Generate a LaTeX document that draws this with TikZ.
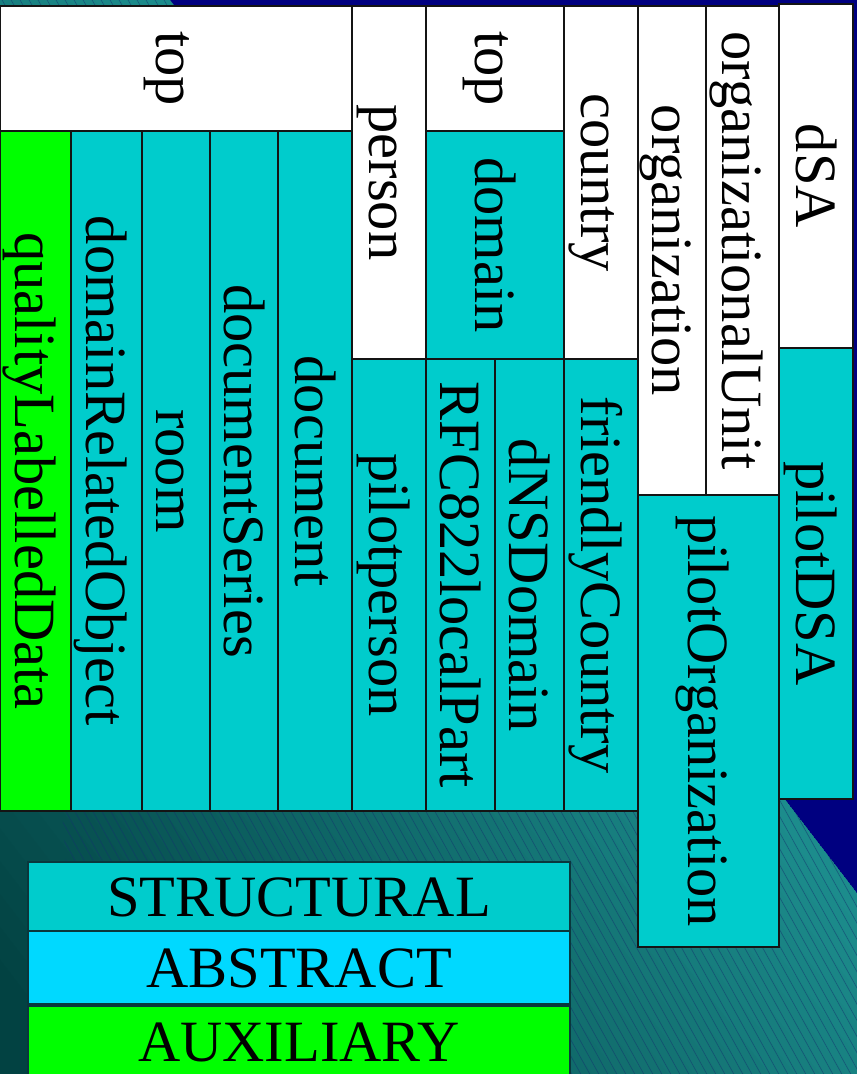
\documentclass[tikz,border=0pt]{standalone}
\usepackage{fontspec}
\setmainfont{Liberation Serif}
\definecolor{navyback}{RGB}{0,0,128}
\definecolor{bglight}{RGB}{28,140,140}
\definecolor{bgdark}{RGB}{2,66,66}
\definecolor{hatchc}{RGB}{20,50,110}
\definecolor{structural}{RGB}{0,204,204}
\definecolor{abstractc}{RGB}{0,217,255}
\definecolor{auxiliary}{RGB}{0,255,0}
\definecolor{cellline}{RGB}{20,20,20}
\definecolor{legendline}{RGB}{10,55,60}
\begin{document}
\begin{tikzpicture}[x=1pt,y=-1pt,
  cell/.style={draw=cellline, line width=1.2pt, inner sep=0pt,
    text height=52pt, text depth=12.6pt,
    font=\fontsize{58.5}{60}\selectfont},
  vcell/.style={cell, rotate=-90},
  legend/.style={cell, draw=legendline, minimum width=542pt},
  hatch/.style={draw=hatchc, line width=0.7pt, opacity=0.5}]
\useasboundingbox (0,0) rectangle (857,1074);
\clip (0,0) rectangle (857,1074);

% backdrop: navy corner and shaded, hatched teal field
\fill[navyback] (0,0) rectangle (857,1074);
\begin{scope}
  \clip (-1,-1) -- (170,-1) -- (857,893) -- (858,1075) -- (-1,1075) -- cycle;
  \foreach \k in {0,...,41} {
    \pgfmathsetmacro\da{20*\k}
    \pgfmathsetmacro\db{20*\k+21}
    \pgfmathsetmacro\pct{min(100,\k*100/36)}
    \fill[bgdark!\pct!bglight]
      ({170-0.7926*\da-0.6098*1500},{0.6098*\da-0.7926*1500}) --
      ({170-0.7926*\da+0.6098*1500},{0.6098*\da+0.7926*1500}) --
      ({170-0.7926*\db+0.6098*1500},{0.6098*\db+0.7926*1500}) --
      ({170-0.7926*\db-0.6098*1500},{0.6098*\db-0.7926*1500}) -- cycle;
  }
  \clip (0,-1) -- (62,811) -- (82,1075) -- (858,1075) -- (858,-1) -- cycle;
  \foreach \x in {-620,-611,...,860}
    \draw[hatch] (\x,-2) -- ++(600,1080);
\end{scope}

% columns under the first top
\node[vcell, fill=white, minimum width=125pt, minimum height=352pt] (top1) at (176,68.5) {top};
\node[vcell, fill=auxiliary, minimum width=680pt, minimum height=71pt] (quality) at (35.5,471) {qualityLabelledData};
\node[vcell, fill=structural, minimum width=680pt, minimum height=71pt] (domrel) at (106.5,471) {domainRelatedObject};
\node[vcell, fill=structural, minimum width=680pt, minimum height=68pt] (room) at (176,471) {room};
\node[vcell, fill=structural, minimum width=680pt, minimum height=68pt] (docser) at (244,471) {documentSeries};
\node[vcell, fill=structural, minimum width=680pt, minimum height=74pt] (doc) at (315,471) {document};

% person
\node[vcell, fill=white, minimum width=353pt, minimum height=74pt] (person) at (389,182.5) {person};
\node[vcell, fill=structural, minimum width=452pt, minimum height=74pt] (pperson) at (389,585) {pilotperson};

% domain branch
\node[vcell, fill=white, minimum width=125pt, minimum height=138pt] (top2) at (495,68.5) {top};
\node[vcell, fill=structural, minimum width=228pt, minimum height=138pt] (domain) at (495,245) {domain};
\node[vcell, fill=structural, minimum width=452pt, minimum height=69pt] (rfc) at (460.5,585) {RFC822localPart};
\node[vcell, fill=structural, minimum width=452pt, minimum height=69pt] (dns) at (529.5,585) {dNSDomain};

% country
\node[vcell, fill=white, minimum width=353pt, minimum height=74pt] (country) at (601,182.5) {country};
\node[vcell, fill=structural, minimum width=452pt, minimum height=74pt] (fcountry) at (601,585) {friendlyCountry};

% organization
\node[vcell, fill=white, minimum width=489pt, minimum height=68pt] (org) at (672,250.5) {organization};
\node[vcell, fill=white, minimum width=489pt, minimum height=73pt] (orgunit) at (742.5,250.5) {organizationalUnit};
\node[vcell, fill=structural, minimum width=452pt, minimum height=141pt] (porg) at (708.5,721) {pilotOrganization};

% dSA
\node[vcell, fill=white, minimum width=344pt, minimum height=74pt] (dsa) at (816,176) {dSA};
\node[vcell, fill=structural, minimum width=451pt, minimum height=74pt] (pdsa) at (816,573.5) {pilotDSA};

% legend
\node[legend, fill=structural, minimum height=69pt] (lstruct) at (299,896.5) {STRUCTURAL};
\node[legend, fill=abstractc, minimum height=73pt] (labstract) at (299,967.5) {ABSTRACT};
\node[legend, fill=auxiliary, minimum height=72pt] (laux) at (299,1042) {AUXILIARY};
\end{tikzpicture}
\end{document}
